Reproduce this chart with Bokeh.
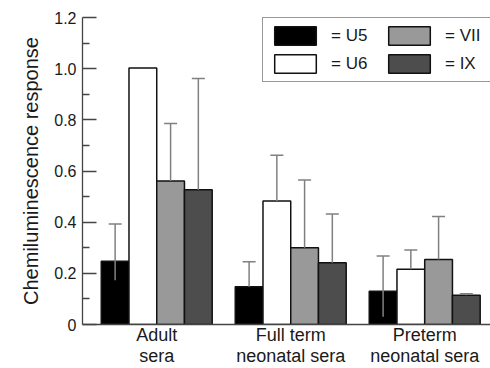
from bokeh.plotting import figure
from bokeh.models import (Range1d, ColumnDataSource, FixedTicker,
                          CustomJSTickFormatter, Legend, LegendItem, Whisker, TeeHead)
from bokeh.embed import file_html
from bokeh.resources import INLINE

# ---- data ----
groups = ["Adult\nsera", "Full term\nneonatal sera", "Preterm\nneonatal sera"]
series = ["U5", "U6", "VII", "IX"]
colors = ["#000000", "#ffffff", "#999999", "#4d4d4d"]

u5 = [0.247, 0.148, 0.130]
u6 = [1.003, 0.483, 0.216]
vii = [0.561, 0.300, 0.254]
ix = [0.527, 0.241, 0.114]

u5_hi = [0.393, 0.245, 0.268]
u6_hi = [None, 0.662, 0.291]
vii_hi = [0.786, 0.565, 0.422]
ix_hi = [0.962, 0.432, 0.120]

u5_lo = [0.173, None, 0.030]
u6_lo = [None, None, None]
vii_lo = [None, None, None]
ix_lo = [None, None, None]

y_major = [0, 0.2, 0.4, 0.6, 0.8, 1.0, 1.2]
y_minor = [0.1, 0.3, 0.5, 0.7, 0.9, 1.1]

values = [u5, u6, vii, ix]
highs = [u5_hi, u6_hi, vii_hi, ix_hi]
lows = [u5_lo, u6_lo, vii_lo, ix_lo]

FONT = "Liberation Sans"
BAR_W = 0.207
n_groups = len(groups)

p = figure(width=490, height=368, x_range=Range1d(-0.554, 2.491), y_range=Range1d(0, 1.2),
           output_backend="svg", toolbar_location=None,
           min_border_left=82, min_border_right=0, min_border_top=17, min_border_bottom=44)
p.grid.visible = False
p.outline_line_color = None
p.background_fill_color = "white"

renderers = []
wx, wlo, whi = [], [], []
for si, (name, col) in enumerate(zip(series, colors)):
    off = (si - 1.5) * BAR_W
    xs = [gi + off for gi in range(n_groups)]
    src = ColumnDataSource(dict(x=xs, top=values[si]))
    r = p.vbar(x="x", top="top", width=BAR_W, source=src, fill_color=col,
               line_color="#111111", line_width=1.5)
    renderers.append((name, r))
    for gi in range(n_groups):
        if highs[si][gi] is not None:
            wx.append(xs[gi])
            whi.append(highs[si][gi])
            lo = lows[si][gi]
            wlo.append(lo if lo is not None else values[si][gi])

wsrc = ColumnDataSource(dict(base=wx, upper=whi, lower=wlo))
wh = Whisker(base="base", upper="upper", lower="lower", source=wsrc, level="overlay",
             line_color="#808080", line_width=1.5,
             upper_head=TeeHead(size=13, line_color="#808080", line_width=1.5),
             lower_head=None)
p.add_layout(wh)

# y axis
ya = p.yaxis[0]
ya.ticker = FixedTicker(ticks=y_major, minor_ticks=y_minor)
ya.formatter = CustomJSTickFormatter(code="return Math.abs(tick) < 1e-9 ? '0' : tick.toFixed(1);")
ya.major_tick_in = 14
ya.major_tick_out = 0
ya.minor_tick_in = 7
ya.minor_tick_out = 0
ya.axis_line_color = "#444444"
ya.axis_line_width = 1.3
ya.major_tick_line_color = "#444444"
ya.major_tick_line_width = 1.3
ya.minor_tick_line_color = "#444444"
ya.minor_tick_line_width = 1.3
ya.major_label_text_font = FONT
ya.major_label_text_font_size = "16px"
ya.major_label_text_color = "#1a1a1a"
ya.major_label_standoff = 6
ya.axis_label = "Chemiluminescence response"
ya.axis_label_text_font = FONT
ya.axis_label_text_font_size = "20px"
ya.axis_label_text_font_style = "normal"
ya.axis_label_text_color = "#1a1a1a"
ya.axis_label_standoff = 9

# x axis
xa = p.xaxis[0]
xa.ticker = FixedTicker(ticks=list(range(n_groups)))
xa.major_label_overrides = {i: g for i, g in enumerate(groups)}
xa.major_tick_in = 0
xa.major_tick_out = 0
xa.minor_tick_in = 0
xa.minor_tick_out = 0
xa.axis_line_color = "#444444"
xa.axis_line_width = 1.3
xa.major_label_text_font = FONT
xa.major_label_text_font_size = "18px"
xa.major_label_text_line_height = 1.05
xa.major_label_text_color = "#1a1a1a"
xa.major_label_standoff = 0

legend = Legend(items=[LegendItem(label="= " + n, renderers=[r]) for n, r in renderers],
                ncols=2, location=(180, 242), margin=0, padding=6, spacing=5,
                glyph_width=52, glyph_height=23, label_standoff=10, label_width=47,
                label_height=23, label_text_font=FONT, label_text_font_size="17px",
                label_text_color="#1a1a1a", border_line_color="#333333",
                border_line_width=1, background_fill_color="white", background_fill_alpha=1)
p.add_layout(legend)

open("out.html", "w").write(file_html(p, INLINE))
